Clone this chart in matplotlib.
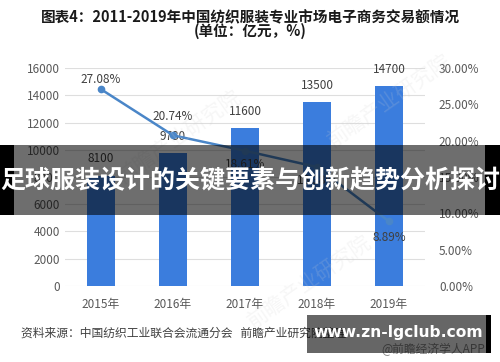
import matplotlib
matplotlib.use("Agg")
from matplotlib import pyplot as plt
from matplotlib.patches import Rectangle

plt.rcParams['font.family'] = ['Noto Sans CJK SC', 'DejaVu Sans']

# data
years = ["2015年", "2016年", "2017年", "2018年", "2019年"]
amount = [8100, 9780, 11600, 13500, 14700]
growth = [27.08, 20.74, 18.61, 16.38, 8.89]
growth_labels = ["27.08%", "20.74%", "18.61%", "16.38%", "8.89%"]
growth_offsets = [10, 19, -14, -14, -16]  # label offset in px (+ above, - below)

left_ticks = [0, 2000, 4000, 6000, 8000, 10000, 12000, 14000, 16000]
right_ticks = [0, 5, 10, 15, 20, 25, 30]

bar_color = "#3b7ddd"
line_color = "#4a86c8"
text_color = "#404040"

fig = plt.figure(figsize=(5, 3.62), dpi=100)
ax = fig.add_axes([0.13, 0.21, 0.72, 0.602])
ax2 = ax.twinx()

x = range(len(years))
ax.bar(x, amount, width=0.39, color=bar_color, zorder=2)
for i, v in enumerate(amount):
    ax.annotate(str(v), (i, v), xytext=(0, 12), textcoords="offset points",
                ha="center", va="center", fontsize=8.5, color=text_color)

ax.set_xlim(-0.5, len(years) - 0.5)
ax.set_ylim(0, 16000)
ax.set_yticks(left_ticks)
ax.set_xticks(list(x))
ax.set_xticklabels(years)
ax.grid(axis="y", color="#dedede", linewidth=0.8, zorder=0)
ax.set_axisbelow(True)
ax.tick_params(length=0, labelsize=8.5, labelcolor="#595959")
ax.tick_params(axis="x", pad=9)
for s in ax.spines.values():
    s.set_visible(False)

ax2.plot(list(x), growth, color=line_color, linewidth=1.8, marker="o",
         markersize=4.5, zorder=3)
for i, v in enumerate(growth):
    ax2.annotate(growth_labels[i], (i, v), xytext=(0, growth_offsets[i] * 0.72),
                 textcoords="offset points", ha="center", va="center",
                 fontsize=8.5, color=text_color)
ax2.set_ylim(0, 30)
ax2.set_yticks(right_ticks)
ax2.set_yticklabels(["%.2f%%" % t for t in right_ticks])
ax2.tick_params(length=0, labelsize=8.5, labelcolor="#595959", pad=10)
for s in ax2.spines.values():
    s.set_visible(False)

# faint watermark
for wx, wy in [(0.36, 0.62), (0.78, 0.72), (0.62, 0.22)]:
    fig.text(wx, wy, "前瞻产业研究院", rotation=35, fontsize=15, color="#d0d0d0",
             alpha=0.18, ha="center", va="center", zorder=4)

# title
fig.text(0.5, 0.953, "图表4：2011-2019年中国纺织服装专业市场电子商务交易额情况",
         ha="center", va="center", fontsize=10.5, fontweight="bold", color="#1a1a1a")
fig.text(0.5, 0.916, "(单位：亿元，%)", ha="center", va="center",
         fontsize=10.5, fontweight="bold", color="#1a1a1a")

# source line
fig.text(0.042, 1 - 333 / 362, "资料来源：中国纺织工业联合会流通分会   前瞻产业研究院整理",
         ha="left", va="center", fontsize=8.5, color=text_color)
fig.text(0.97, 1 - 349 / 362, "@前瞻经济学人APP", ha="right", va="center",
         fontsize=8.5, color="#8a8a8a", zorder=5)

# overlay banner
W, H = 500.0, 362.0
fig.patches.append(Rectangle((0, 1 - 215 / H), 1, 70 / H, transform=fig.transFigure,
                             facecolor="black", alpha=0.57, zorder=10))
fig.patches.append(Rectangle((0, 1 - 215 / H), 14 / W, 70 / H, transform=fig.transFigure,
                             facecolor="black", zorder=10))
fig.patches.append(Rectangle((485 / W, 1 - 215 / H), 15 / W, 70 / H, transform=fig.transFigure,
                             facecolor="black", zorder=10))
fig.text(0.5, 1 - 181 / H, "足球服装设计的关键要素与创新趋势分析探讨", ha="center",
         va="center", fontsize=18, fontweight="bold", color="white", zorder=11)

# bottom right badge
fig.patches.append(Rectangle((307 / W, 1 - 353 / H), 179 / W, 38 / H, transform=fig.transFigure,
                             facecolor="black", alpha=0.6, zorder=10))
fig.patches.append(Rectangle((486 / W, 1 - 353 / H), 5 / W, 38 / H, transform=fig.transFigure,
                             facecolor="black", zorder=10))
fig.text(398 / W, 1 - 333 / H, "www.zn-lgclub.com", ha="center", va="center",
         fontsize=11.2, fontweight="bold", color="white", family="DejaVu Sans", zorder=11)

fig.savefig("out.png", dpi=100)
